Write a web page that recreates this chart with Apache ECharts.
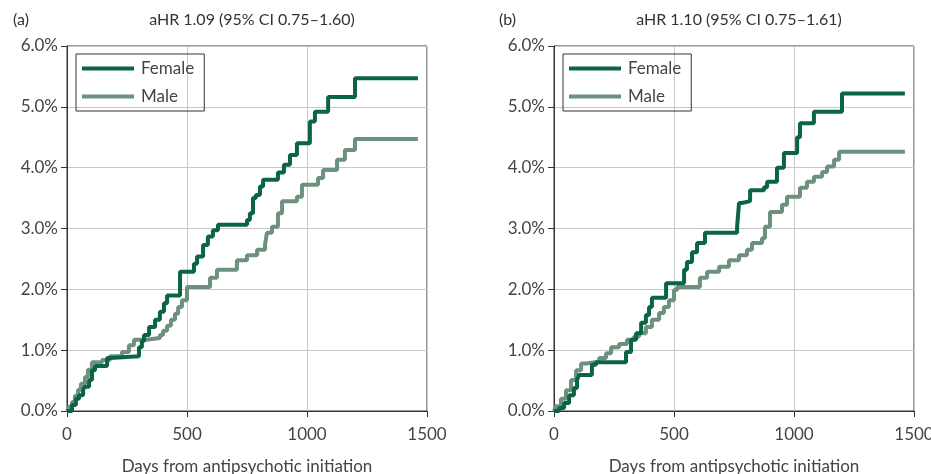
<!DOCTYPE html>
<html>
<head>
<meta charset="utf-8">
<script src="https://cdn.jsdelivr.net/npm/echarts@6/dist/echarts.min.js"></script>
<style>
  html, body { margin: 0; padding: 0; background: #fff; }
  #main { width: 931px; height: 474px; }
</style>
</head>
<body>
<div id="main"></div>
<script>
// cumulative incidence (%) at day
const femaleA = [[0,0],[21,0.1],[37,0.2],[50,0.26],[67,0.35],[75,0.4],[92,0.51],[104,0.67],[117,0.74],
  [167,0.87],[180,0.9],[300,1.05],[312,1.15],[321,1.25],[342,1.38],[367,1.5],[387,1.63],[404,1.77],[417,1.9],
  [471,2.29],[529,2.42],[542,2.54],[567,2.73],[587,2.87],[608,2.97],[629,3.06],[750,3.14],[762,3.25],
  [775,3.5],[787,3.55],[804,3.69],[817,3.8],[879,3.92],[904,4.05],[929,4.21],[958,4.4],[1012,4.76],
  [1033,4.92],[1088,5.16],[1200,5.47],[1462,5.47]];
const maleA = [[0,0],[8,0.07],[21,0.15],[33,0.25],[46,0.35],[58,0.45],[75,0.56],[87,0.68],[104,0.8],
  [146,0.84],[179,0.9],[229,0.97],[258,1.08],[279,1.17],[330,1.2],[387,1.25],[400,1.32],[417,1.4],
  [433,1.5],[450,1.6],[463,1.71],[479,1.82],[500,2.04],[596,2.19],[625,2.32],[708,2.48],[750,2.56],
  [792,2.65],[825,2.73],[833,2.93],[854,3.03],[879,3.25],[896,3.45],[958,3.52],[979,3.72],[1046,3.83],
  [1067,3.96],[1125,4.13],[1158,4.29],[1200,4.47],[1462,4.47]];
const femaleB = [[0,0],[21,0.05],[42,0.13],[63,0.26],[83,0.38],[96,0.51],[104,0.59],[158,0.76],[175,0.8],
  [300,0.97],[321,1.17],[342,1.28],[363,1.45],[383,1.58],[396,1.71],[408,1.86],[467,2.1],[542,2.32],
  [554,2.45],[575,2.61],[596,2.76],[629,2.93],[763,3.03],[771,3.42],[783,3.45],[817,3.63],[875,3.68],
  [888,3.77],[929,4.0],[958,4.24],[1013,4.5],[1025,4.73],[1083,4.92],[1200,5.22],[1462,5.22]];
const maleB = [[0,0],[8,0.08],[29,0.2],[50,0.34],[71,0.51],[92,0.67],[113,0.78],[133,0.81],[188,0.87],
  [217,0.95],[238,1.05],[271,1.1],[304,1.17],[333,1.22],[354,1.28],[383,1.38],[408,1.5],[438,1.61],
  [458,1.71],[479,1.82],[500,1.99],[513,2.04],[608,2.19],[638,2.29],[688,2.37],[729,2.48],[771,2.56],
  [804,2.65],[825,2.76],[867,2.84],[879,3.03],[900,3.27],[950,3.39],[971,3.52],[1025,3.67],[1054,3.77],
  [1083,3.85],[1117,3.93],[1138,4.02],[1167,4.13],[1188,4.26],[1462,4.26]];

const panelLabels = ['(a)', '(b)'];
const titles = ['aHR 1.09 (95% CI 0.75\u20131.60)', 'aHR 1.10 (95% CI 0.75\u20131.61)'];
const seriesNames = ['Female', 'Male'];
const xTitle = 'Days from antipsychotic initiation';

const FONT = 'Lato';
const darkGreen = '#0b6446';
const lightGreen = '#6c927d';
const lefts = [67, 554];

const xAxisCfg = (i) => ({
  gridIndex: i, type: 'value', min: 0, max: 1500, interval: 500,
  axisLine: { show: true, lineStyle: { color: '#333', width: 1 } },
  axisTick: { show: true, length: 6, lineStyle: { color: '#333' } },
  axisLabel: { color: '#444', fontSize: 17, fontFamily: FONT, margin: 15,
    formatter: (v) => String(v) },
  splitLine: { show: true, lineStyle: { color: '#c8c8c8', width: 1 } },
  name: xTitle, nameLocation: 'middle', nameGap: 47,
  nameTextStyle: { color: '#444', fontSize: 17, fontFamily: FONT }
});
const yAxisCfg = (i) => ({
  gridIndex: i, type: 'value', min: 0, max: 6, interval: 1,
  axisLine: { show: true, lineStyle: { color: '#333', width: 1 } },
  axisTick: { show: true, length: 6, lineStyle: { color: '#333' } },
  axisLabel: { color: '#444', fontSize: 17, fontFamily: FONT, margin: 9,
    formatter: (v) => v.toFixed(1) + '%' },
  splitLine: { show: true, lineStyle: { color: '#c8c8c8', width: 1 } }
});
const line = (name, data, color, i) => ({
  name, type: 'line', step: 'end', data, xAxisIndex: i, yAxisIndex: i,
  showSymbol: false, symbol: 'none', lineStyle: { color, width: 4 }, itemStyle: { color }
});

const option = {
  animation: false,
  backgroundColor: '#fff',
  title: [
    { text: panelLabels[0], left: 8, top: 7, textStyle: { fontSize: 16, fontWeight: 'normal', color: '#333', fontFamily: FONT } },
    { text: titles[0], left: 247, top: 7, textAlign: 'center', textStyle: { fontSize: 16, fontWeight: 'normal', color: '#333', fontFamily: FONT } },
    { text: panelLabels[1], left: 494, top: 7, textStyle: { fontSize: 16, fontWeight: 'normal', color: '#333', fontFamily: FONT } },
    { text: titles[1], left: 734, top: 7, textAlign: 'center', textStyle: { fontSize: 16, fontWeight: 'normal', color: '#333', fontFamily: FONT } }
  ],
  legend: lefts.map((l) => ({
    data: seriesNames, orient: 'vertical', left: l + 9, top: 54,
    icon: 'rect', itemWidth: 52, itemHeight: 4, itemGap: 11,
    borderColor: '#333', borderWidth: 1, borderRadius: 0, padding: [6, 10, 6, 6],
    textStyle: { color: '#444', fontSize: 17, fontFamily: FONT, padding: [0, 0, 0, 2] }
  })),
  grid: lefts.map((l) => ({
    left: l, top: 46, width: 360, height: 365, show: true,
    borderColor: '#333', borderWidth: 1, containLabel: false, outerBoundsMode: 'none'
  })),
  xAxis: [xAxisCfg(0), xAxisCfg(1)],
  yAxis: [yAxisCfg(0), yAxisCfg(1)],
  series: [
    line(seriesNames[1], maleA, lightGreen, 0),
    line(seriesNames[0], femaleA, darkGreen, 0),
    line(seriesNames[1], maleB, lightGreen, 1),
    line(seriesNames[0], femaleB, darkGreen, 1)
  ]
};

echarts.init(document.getElementById('main'), null, { renderer: 'canvas' }).setOption(option);
</script>
</body>
</html>
